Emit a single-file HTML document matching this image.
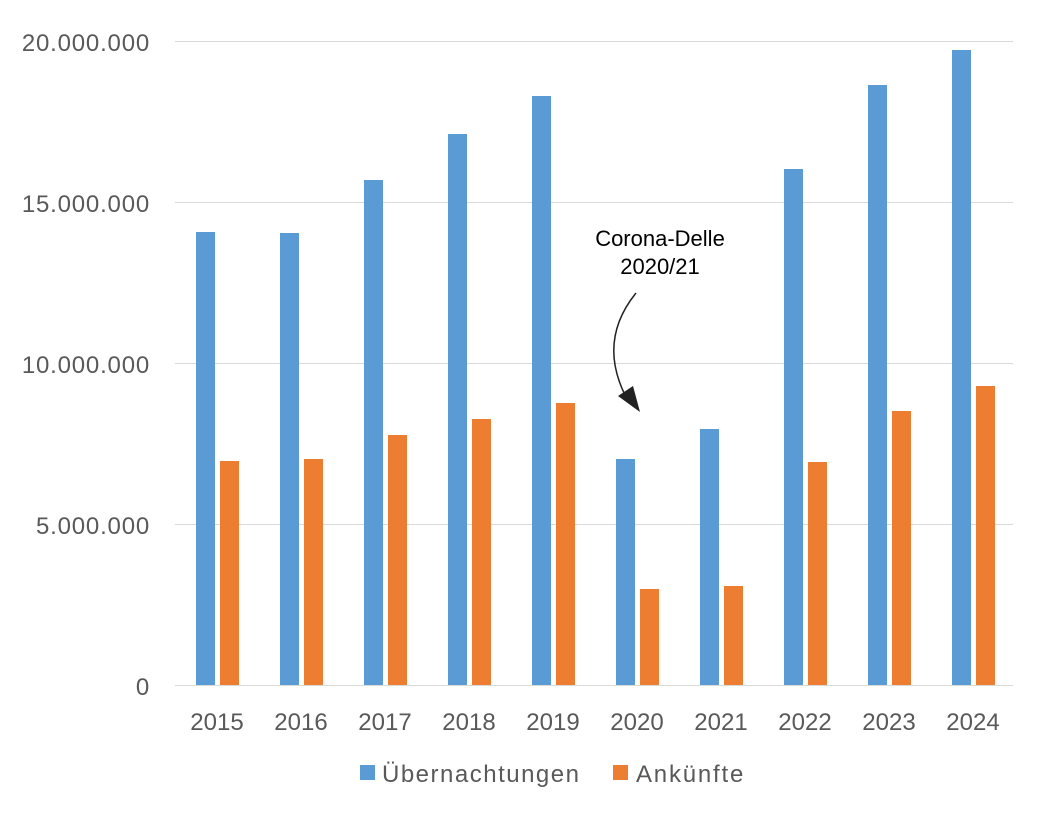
<!DOCTYPE html>
<html><head><meta charset="utf-8"><style>
body{margin:0;background:#fff}
svg text{font-family:"Liberation Sans",sans-serif;fill:#595959}
</style></head><body>
<svg width="1044" height="813" xmlns="http://www.w3.org/2000/svg">
<g stroke="#d9d9d9" stroke-width="1">
<line x1="175" y1="41.5" x2="1013" y2="41.5"/>
<line x1="175" y1="202.5" x2="1013" y2="202.5"/>
<line x1="175" y1="363.5" x2="1013" y2="363.5"/>
<line x1="175" y1="524.5" x2="1013" y2="524.5"/>
<line x1="175" y1="685.5" x2="1013" y2="685.5"/>
</g>
<g font-size="24" text-anchor="end" letter-spacing="0.8">
<text x="150" y="51">20.000.000</text>
<text x="150" y="212">15.000.000</text>
<text x="150" y="373">10.000.000</text>
<text x="150" y="534">5.000.000</text>
<text x="150" y="695">0</text>
</g>
<g fill="#5b9bd5">
<rect x="196" y="232" width="19" height="453"/>
<rect x="280" y="233" width="19" height="452"/>
<rect x="364" y="180" width="19" height="505"/>
<rect x="448" y="134" width="19" height="551"/>
<rect x="532" y="96" width="19" height="589"/>
<rect x="616" y="459" width="19" height="226"/>
<rect x="700" y="429" width="19" height="256"/>
<rect x="784" y="169" width="19" height="516"/>
<rect x="868" y="85" width="19" height="600"/>
<rect x="952" y="50" width="19" height="635"/>
</g>
<g fill="#ed7d31">
<rect x="220" y="461" width="19" height="224"/>
<rect x="304" y="459" width="19" height="226"/>
<rect x="388" y="435" width="19" height="250"/>
<rect x="472" y="419" width="19" height="266"/>
<rect x="556" y="403" width="19" height="282"/>
<rect x="640" y="589" width="19" height="96"/>
<rect x="724" y="586" width="19" height="99"/>
<rect x="808" y="462" width="19" height="223"/>
<rect x="892" y="411" width="19" height="274"/>
<rect x="976" y="386" width="19" height="299"/>
</g>
<g font-size="24" text-anchor="middle">
<text x="217" y="730">2015</text><text x="301" y="730">2016</text><text x="385" y="730">2017</text>
<text x="469" y="730">2018</text><text x="553" y="730">2019</text><text x="637" y="730">2020</text>
<text x="721" y="730">2021</text><text x="805" y="730">2022</text><text x="889" y="730">2023</text>
<text x="973" y="730">2024</text>
</g>
<rect x="360" y="765" width="15" height="15" fill="#5b9bd5"/>
<text x="382" y="782" font-size="24" letter-spacing="1.5">Übernachtungen</text>
<rect x="613" y="765" width="15" height="15" fill="#ed7d31"/>
<text x="636" y="782" font-size="24" letter-spacing="1.8">Ankünfte</text>
<g font-size="22" text-anchor="middle">
<text x="660" y="246" style="fill:#000">Corona-Delle</text>
<text x="660" y="274" style="fill:#000">2020/21</text>
</g>
<path d="M636 293 Q598 340 625 395" fill="none" stroke="#222" stroke-width="1.5"/>
<polygon points="618,396 633,386 640,412" fill="#222"/>
</svg>
</body></html>
